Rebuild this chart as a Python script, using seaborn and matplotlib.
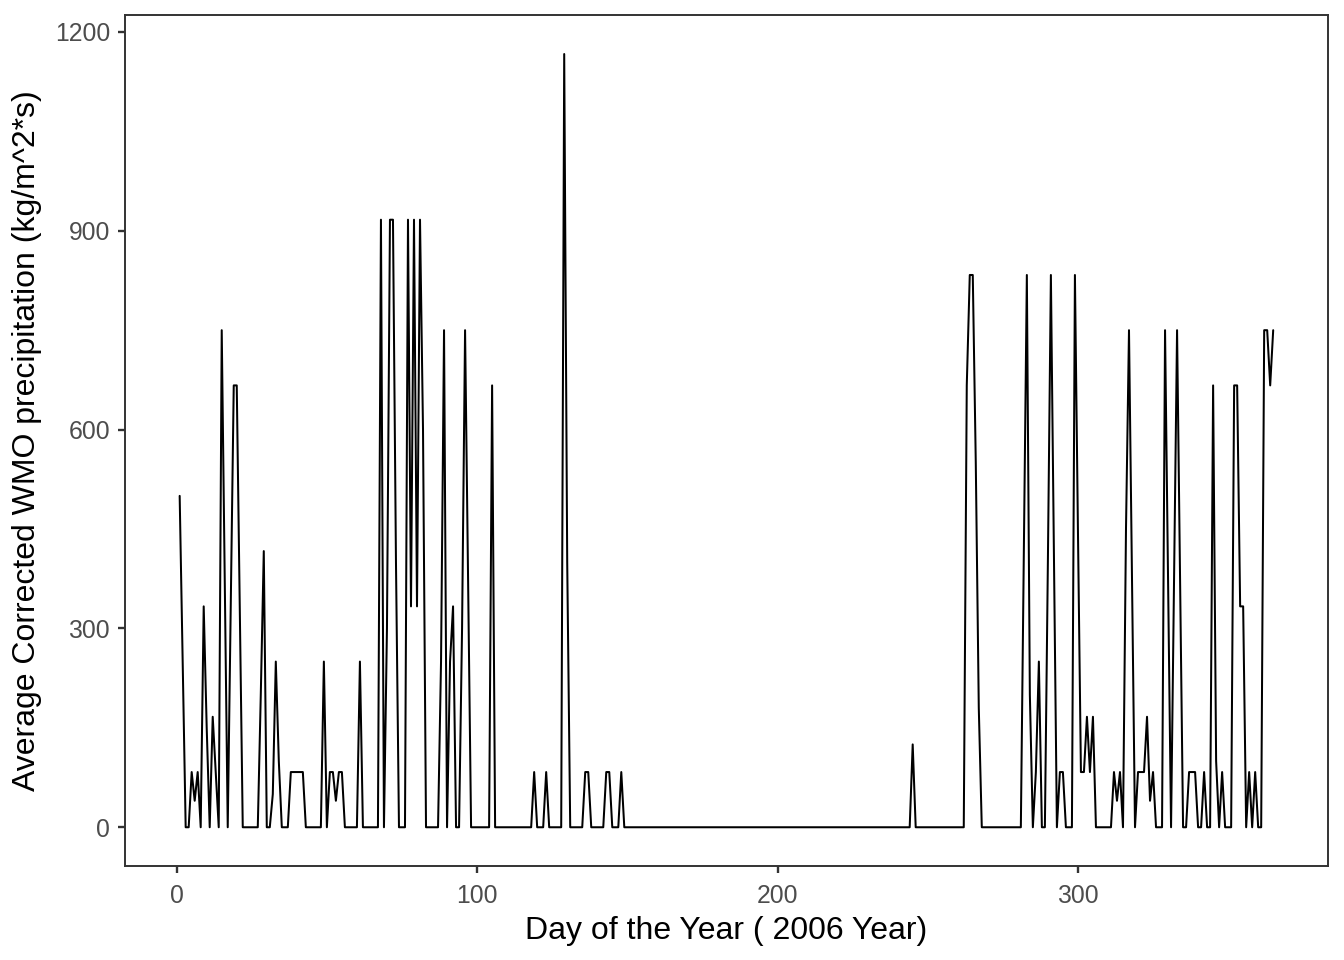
import numpy as np
import pandas as pd
import matplotlib
matplotlib.use("Agg")
import matplotlib.pyplot as plt
import seaborn as sns

# day of year and the matching value for every day that was not zero
wet_days = [
    1, 2, 5, 6, 7, 9, 10, 12, 13, 15, 16, 18, 19, 20, 21, 28, 29, 32, 33, 34,
    38, 39, 40, 41, 42, 49, 51, 52, 53, 54, 55, 61,
    68, 70, 71, 72, 73, 77, 78, 79, 80, 81, 82, 88, 89, 91, 92, 95, 96, 97,
    105, 119, 123, 129, 130, 136, 137, 143, 144, 148,
    245,
    263, 264, 265, 266, 267, 282, 283, 284, 286, 287, 290, 291, 292, 294, 295,
    299, 300, 301, 302, 303, 304, 305,
    312, 313, 314, 316, 317, 318, 320, 321, 322, 323, 324, 325,
    329, 330, 332, 333, 334, 337, 338, 339, 342, 345, 346, 348,
    352, 353, 354, 355, 357, 359, 362, 363, 364, 365,
]
wet_values = [
    500, 250, 83.3, 40, 83.3, 333.3, 150, 166.7, 83.3, 750, 375, 333.3, 666.7, 666.7, 333.3, 200, 416.7, 50, 250, 100,
    83.3, 83.3, 83.3, 83.3, 83.3, 250, 83.3, 83.3, 40, 83.3, 83.3, 250,
    916.7, 300, 916.7, 916.7, 400, 916.7, 333.3, 916.7, 333.3, 916.7, 600, 250, 750, 250, 333.3, 300, 750, 375,
    666.7, 83.3, 83.3, 1166.7, 400, 83.3, 83.3, 83.3, 83.3, 83.3,
    125,
    666.7, 833.3, 833.3, 550, 180, 416.7, 833.3, 200, 83.3, 250, 400, 833.3, 416.7, 83.3, 83.3,
    833.3, 450, 83.3, 83.3, 166.7, 83.3, 166.7,
    83.3, 40, 83.3, 450, 750, 375, 83.3, 83.3, 83.3, 166.7, 40, 83.3,
    750, 375, 375, 750, 375, 83.3, 83.3, 83.3, 83.3, 666.7, 100, 83.3,
    666.7, 666.7, 333.3, 333.3, 83.3, 83.3, 750, 750, 666.7, 750,
]
first_day, last_day = 1, 365

x_ticks = [0, 100, 200, 300]
y_ticks = [0, 300, 600, 900, 1200]

days = np.arange(first_day, last_day + 1)
precip = pd.Series(0.0, index=days)
precip.loc[wet_days] = wet_values
df = pd.DataFrame({"day": days, "precip": precip.to_numpy()})

sns.set_style("white")
plt.rcParams["font.family"] = ["Liberation Sans", "DejaVu Sans"]

fig, ax = plt.subplots(figsize=(13.44, 9.6), dpi=100)
fig.subplots_adjust(left=0.093, right=0.988, top=0.984, bottom=0.098)

sns.lineplot(data=df, x="day", y="precip", color="black", linewidth=1.45, ax=ax)

# ggplot-style 5% expansion
x_pad = (last_day - first_day) * 0.05
y_max = max(wet_values)
ax.set_xlim(first_day - x_pad, last_day + x_pad)
ax.set_ylim(-y_max * 0.05, y_max * 1.05)
ax.set_xticks(x_ticks)
ax.set_yticks(y_ticks)

ax.set_xlabel("Day of the Year ( 2006 Year)", fontsize=23, color="black", labelpad=6)
ax.set_ylabel("Average Corrected WMO precipitation (kg/m^2*s)", fontsize=23, color="black", labelpad=9)
ax.tick_params(axis="both", which="major", direction="out", length=5.3, width=1.7,
               color="#333333", labelsize=17.8, labelcolor="#4D4D4D",
               bottom=True, left=True)
ax.tick_params(axis="x", pad=7.5)
ax.tick_params(axis="y", pad=5.5)
for spine in ax.spines.values():
    spine.set_visible(True)
    spine.set_color("#333333")
    spine.set_linewidth(1.4)
ax.grid(False)

fig.savefig("out.png", dpi=100)
